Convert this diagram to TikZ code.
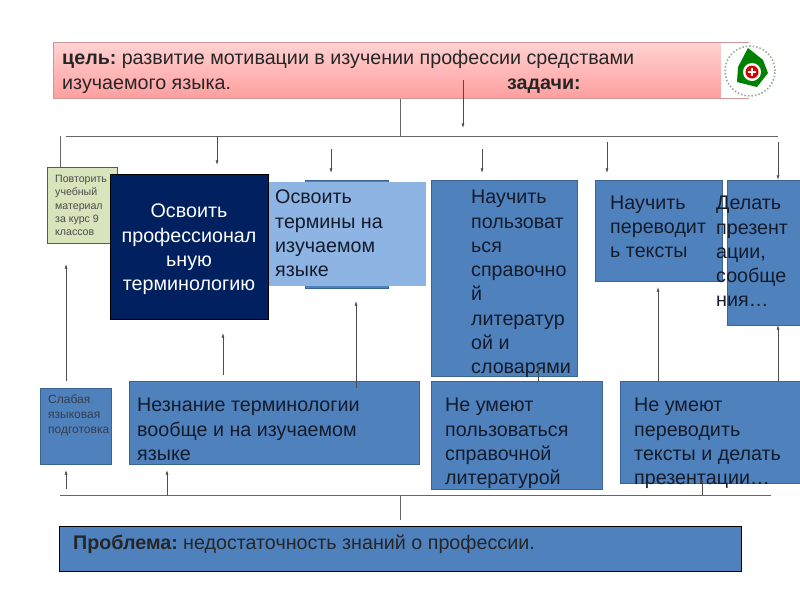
\documentclass[tikz,border=0pt]{standalone}
\usepackage{fontspec}
\setmainfont{Liberation Sans}
\usetikzlibrary{arrows.meta, positioning}
\definecolor{boxblue}{HTML}{4F81BD}
\definecolor{boxline}{HTML}{3A6494}
\definecolor{boxnavy}{HTML}{002060}
\definecolor{boxlight}{HTML}{8EB4E3}
\definecolor{boxgreen}{HTML}{D7E4BC}
\definecolor{goalred}{HTML}{FF9E9E}
\definecolor{goalpale}{HTML}{FFD2D2}
\definecolor{inktext}{HTML}{141C2C}
\begin{document}
\begin{tikzpicture}[
  x=1pt, y=-1pt,
  plate/.style={rectangle, draw=boxline, fill=boxblue, line width=1pt, anchor=north west, inner sep=0pt},
  navyplate/.style={plate, draw=black, fill=boxnavy, line width=1.2pt},
  lightplate/.style={plate, draw=none, fill=boxlight},
  greenplate/.style={plate, draw=black!65, fill=boxgreen},
  goalplate/.style={plate, draw=red!35!gray!60, top color=goalpale, bottom color=goalred},
  caption/.style={anchor=north west, inner sep=0pt, align=left, font=\fontsize{19.7}{24.3}\selectfont, text=inktext},
  tinycaption/.style={anchor=north west, inner sep=0pt, align=left, font=\fontsize{10.6}{13.3}\selectfont, text=black!70},
  edge/.style={-{Latex[length=1.6mm, width=1mm]}, black!70, line width=0.6pt},
  trunk/.style={black!60, line width=0.9pt}
]
\useasboundingbox (0,0) rectangle (800,600);

\node[goalplate, minimum width=695pt, minimum height=56pt] (goal) at (53,42) {};
\node[greenplate, minimum width=70pt, minimum height=76pt] (repeat) at (47,167) {};
\node[navyplate, minimum width=158pt, minimum height=145pt] (master) at (110,174) {};
\node[plate, minimum width=83pt, minimum height=108pt] (termsback) at (305,180) {};
\node[lightplate, minimum width=157pt, minimum height=104pt] (terms) at (268,181) {};
\node[plate, minimum width=146pt, minimum height=196pt] (teach) at (431,180) {};
\node[plate, minimum width=127pt, minimum height=101pt] (translate) at (595,180) {};
\node[plate, minimum width=73pt, minimum height=145pt] (present) at (727,180) {};
\node[plate, minimum width=71pt, minimum height=76pt] (weak) at (40,388) {};
\node[plate, minimum width=290pt, minimum height=83pt] (unknown) at (129,381) {};
\node[plate, minimum width=171pt, minimum height=108pt] (cannotuse) at (431,381) {};
\node[plate, minimum width=180pt, minimum height=102pt] (cannottr) at (620,381) {};
\node[plate, draw=black, line width=1.2pt, minimum width=682pt, minimum height=45pt] (problem) at (59,526) {};

% logo
\fill[white] (721,43) rectangle (776,98);
\draw[green!25!black!45, line width=1.5pt, dotted] (750,71) circle (25pt);
\fill[green!50!black] (748,48) -- (763,60) -- (768,73) -- (757,87) -- (737,82) -- (738,67) -- cycle;
\fill[white] (752,72) circle (9pt);
\fill[red!85!black] (752,72) circle (6.5pt);
\draw[white, line width=1.6pt] (748,72) -- (756,72) (752,68) -- (752,76);

\node[caption, font=\fontsize{19.7}{25.5}\selectfont, text=black!85] (goaltext) at (62,50) {\textbf{цель:}\hspace{-2pt} развитие мотивации в изучении профессии средствами\\изучаемого языка.};
\node[caption, font=\bfseries\fontsize{19.7}{25}\selectfont, text=black!85] (taskstext) at (507,79) {задачи:};
\node[tinycaption] (repeattext) at (55,175) {Повторить\\учебный\\материал\\за курс 9\\классов};
\node[caption, align=center, anchor=center, text=white] (mastertext) at (189,249.5) {Освоить\\профессионал\\ьную\\терминологию};
\node[caption] (termstext) at (275,190) {Освоить\\термины на\\изучаемом\\языке};
\node[caption] (teachtext) at (471,190) {Научить\\пользоват\\ься\\справочно\\й\\литератур\\ой и\\словарями};
\node[caption] (translatetext) at (610,195.5) {Научить\\переводит\\ь тексты};
\node[caption] (presenttext) at (716,196) {Делать\\презент\\ации,\\сообще\\ния…};
\node[tinycaption, font=\fontsize{12}{15}\selectfont, text=inktext!85] (weaktext) at (48,394) {Слабая\\языковая\\подготовка};
\node[caption] (unknowntext) at (137,398) {Незнание терминологии\\вообще и на изучаемом\\языке};
\node[caption] (cannotusetext) at (445,398) {Не умеют\\пользоваться\\справочной\\литературой};
\node[caption] (cannottrtext) at (634,398) {Не умеют\\переводить\\тексты и делать\\презентации…};
\node[caption, text=black!85] (problemtext) at (73,535) {\textbf{Проблема:}\hspace{-2pt} недостаточность знаний о профессии.};

\coordinate (topleft) at (66,136);
\coordinate (topright) at (778,136);
\coordinate (topjoin) at (400,136);
\coordinate (lowleft) at (60,495);
\coordinate (lowright) at (771,495);
\coordinate (lowjoin) at (400,495);
\coordinate (lowdrop) at (400,520);
\draw[trunk] (topleft) -- (topright);
\draw[trunk] (goal.south -| topjoin) -- (topjoin);
\draw[trunk] (lowleft) -- (lowright);
\draw[trunk] (lowjoin) -- (lowdrop);
\draw[trunk] (60,136) -- (repeat.north -| 60,136);

\draw[edge] (463,80) coordinate (a1) -- (463,128) coordinate (a2);
\draw[edge] (217,136) coordinate (b1) -- (217,165) coordinate (b2);
\draw[edge] (331,149) coordinate (c1) -- (331,173) coordinate (c2);
\draw[edge] (482,149) coordinate (d1) -- (482,173) coordinate (d2);
\draw[edge] (607,142) coordinate (e1) -- (607,173) coordinate (e2);
\draw[edge] (778,142) coordinate (f1) -- (present.north -| 778,142);

\draw[edge] (66,381) coordinate (g1) -- (66,264) coordinate (g2);
\draw[edge] (223,375) coordinate (h1) -- (223,333) coordinate (h2);
\draw[edge] (356,388) coordinate (i1) -- (356,301) coordinate (i2);
\draw[edge] (538,381) coordinate (j1) -- (538,364) coordinate (j2);
\draw[edge] (658,381) coordinate (k1) -- (658,287) coordinate (k2);
\draw[edge] (778,381) coordinate (l1) -- (778,325) coordinate (l2);
\draw[edge] (66,489) coordinate (m1) -- (66,470) coordinate (m2);
\draw[edge] (167,495) coordinate (n1) -- (167,470) coordinate (n2);
\draw[edge] (702,495) coordinate (o1) -- (702,478) coordinate (o2);
\end{tikzpicture}
\end{document}
